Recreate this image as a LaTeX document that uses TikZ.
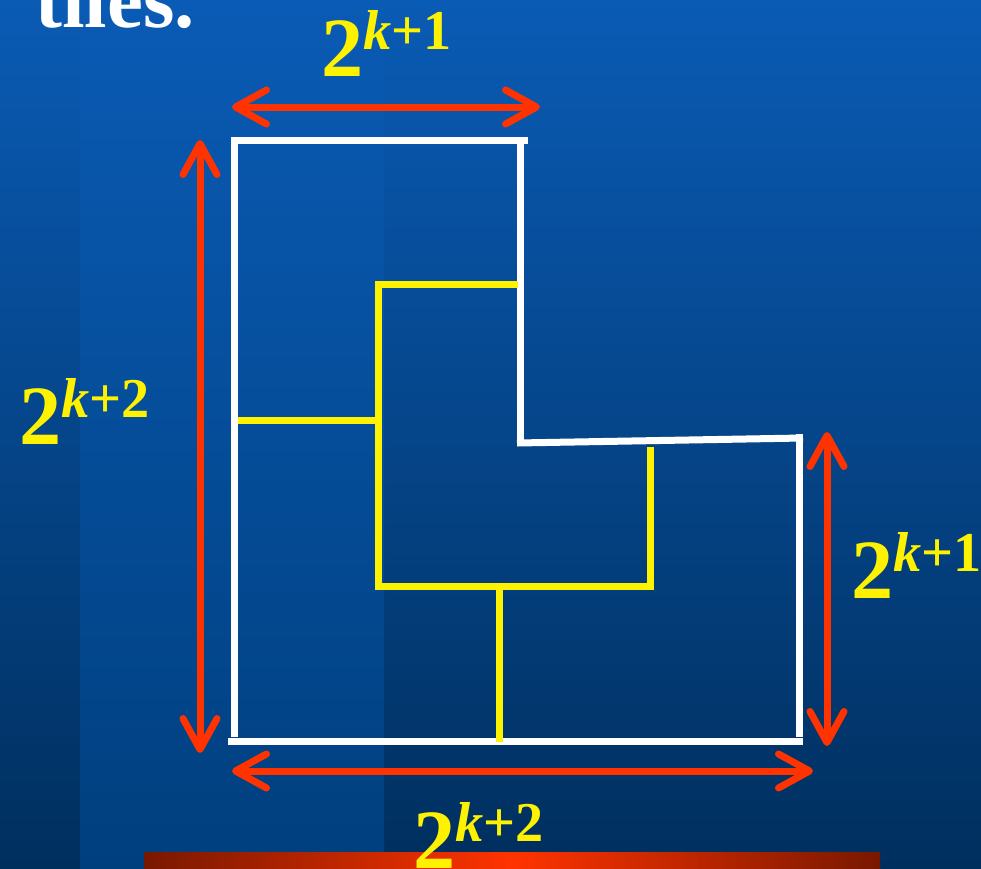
\documentclass[tikz,border=0pt]{standalone}
\usepackage{fontspec}
\setmainfont{Liberation Serif}
\usetikzlibrary{arrows.meta}

\definecolor{bgtop}{RGB}{10,91,181}
\definecolor{bgbottom}{RGB}{0,47,94}
\definecolor{stripbottom}{RGB}{0,63,126}
\definecolor{dimred}{RGB}{255,51,0}
\definecolor{bardark}{RGB}{120,24,0}

\newcommand{\powlabel}[1]{2\raisebox{15pt}{\fontsize{32}{32}\selectfont\textit{k}+#1}}

\begin{document}
\begin{tikzpicture}[x=0.02cm, y=-0.02cm,
    whiteedge/.style={draw=white, line width=0.14cm},
    yellowedge/.style={draw=yellow, line width=0.14cm},
    dimarrow/.style={draw=dimred, line width=0.14cm, >={Straight Barb[length=0.62cm, width=0.68cm, round]}, <->},
    dimtext/.style={text=yellow, font=\fontsize{48}{48}\selectfont\bfseries, inner sep=0pt, anchor=base west}
]

% Background
\shade[top color=bgtop, bottom color=bgbottom] (0,0) rectangle (981,869);
\shade[top color=bgtop, bottom color=stripbottom] (80,0) rectangle (384,869);
\useasboundingbox (0,0) rectangle (981,869);

% Title
\node at (35,27) [text=white, font=\fontsize{46}{46}\selectfont\bfseries, inner sep=0pt, anchor=base west] (title) {tiles.};

% White outline
\draw[whiteedge] (231,140) -- (528,140);
\draw[whiteedge] (234,140) -- (234,737);
\draw[whiteedge] (520,140) -- (520,443);
\draw[whiteedge] (517,443) -- (803,438);
\draw[whiteedge] (799,434) -- (799,737);
\draw[whiteedge] (228,741) -- (803,741);

% Yellow tiles
\draw[yellowedge] (238,420) -- (378,420);
\draw[yellowedge] (518,284) -- (378,284) -- (378,586) -- (650,586) -- (650,447);
\draw[yellowedge] (499,586) -- (499,742);

% Dimension arrows
\coordinate (topL) at (232,107);
\coordinate (topR) at (540,107);
\coordinate (leftT) at (200,140);
\coordinate (leftB) at (200,753);
\coordinate (rightT) at (827,432);
\coordinate (rightB) at (827,746);
\coordinate (botL) at (232,771);
\coordinate (botR) at (813,771);
\draw[dimarrow] (topL) -- (topR);
\draw[dimarrow] (leftT) -- (leftB);
\draw[dimarrow] (rightT) -- (rightB);
\draw[dimarrow] (botL) -- (botR);

% Bottom bar
\shade[left color=bardark, right color=bardark, middle color=dimred] (144,852) rectangle (880,869);

% Labels
\node at (321,76) [dimtext] (widthtop) {\powlabel{1}};
\node at (19,444) [dimtext] (heightleft) {\powlabel{2}};
\node at (851,598) [dimtext] (heightright) {\powlabel{1}};
\node at (413,868) [dimtext] (widthbottom) {\powlabel{2}};

\end{tikzpicture}
\end{document}
